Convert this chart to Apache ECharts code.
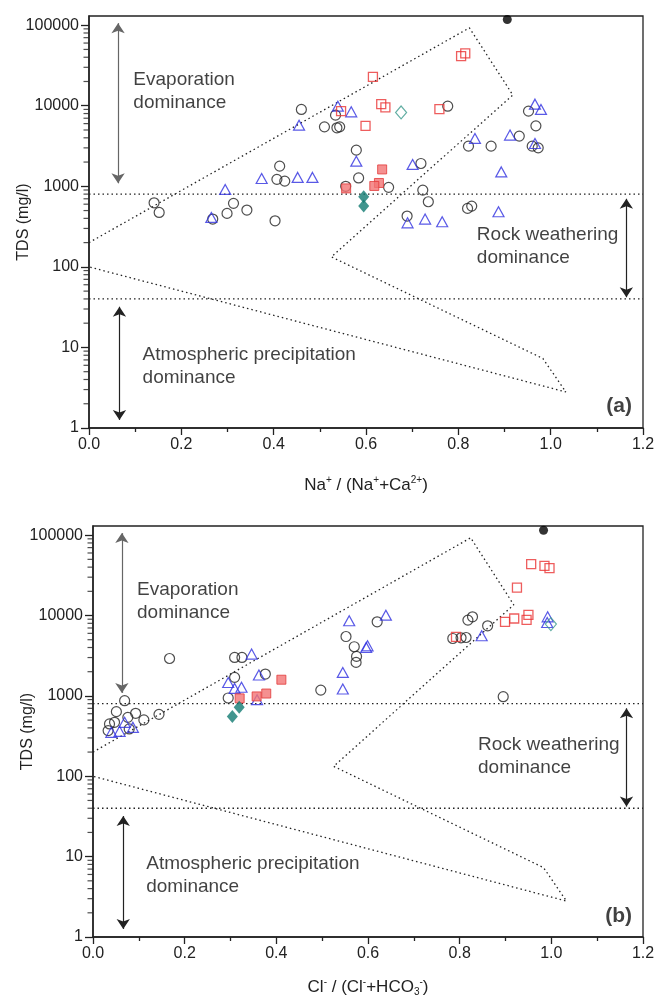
<!DOCTYPE html>
<html>
<head>
<meta charset="utf-8">
<title>Gibbs diagrams</title>
<script src="https://cdn.jsdelivr.net/npm/echarts@6.0.0/dist/echarts.min.js"></script>
<style>
  html, body { margin: 0; padding: 0; background: #fff; }
  #chart { width: 657px; height: 999px; }
</style>
</head>
<body>
<div id="chart"></div>
<script>
// ---- data ----
// panel (a): Na+ / (Na+ + Ca2+) vs TDS
var circlesA = [[0.460,9000],[0.534,7640],[0.510,5470],[0.537,5320],[0.543,5470],[0.579,2810],[0.584,1270],
  [0.413,1780],[0.407,1220],[0.424,1160],[0.556,1000],[0.141,624],[0.152,474],[0.313,614],[0.299,461],
  [0.342,507],[0.268,392],[0.403,373],[0.777,9880],[0.952,8570],[0.968,5630],[0.822,3150],[0.871,3150],
  [0.932,4200],[0.960,3150],[0.973,3000],[0.719,1920],[0.649,970],[0.723,897],[0.735,643],[0.820,532],
  [0.829,568],[0.689,427]];
var trianglesA = [[0.455,5740],[0.539,9880],[0.568,8400],[0.579,2050],[0.374,1250],[0.452,1290],[0.484,1290],
  [0.295,915],[0.265,411],[0.966,10470],[0.979,9000],[0.836,3930],[0.912,4320],[0.966,3400],[0.701,1870],
  [0.893,1510],[0.690,352],[0.728,392],[0.765,363],[0.887,483]];
var openSquaresA = [[0.806,41200],[0.815,44600],[0.615,22800],[0.633,10470],[0.642,9520],[0.759,9080],[0.599,5630],[0.546,8570]];
var filledSquaresA = [[0.557,942],[0.635,1620],[0.628,1100],[0.618,1010]];
var filledDiamondsA = [[0.595,740],[0.595,568]];
var openDiamondsA = [[0.676,8260]];
var blackDotsA = [[0.906,117700]];

// panel (b): Cl- / (Cl- + HCO3-) vs TDS
var circlesB = [[0.167,2920],[0.309,3010],[0.325,3010],[0.376,1870],[0.309,1700],[0.295,942],[0.497,1180],
  [0.069,871],[0.051,637],[0.093,607],[0.111,503],[0.144,589],[0.047,469],[0.076,541],[0.036,448],
  [0.033,370],[0.079,388],[0.818,8770],[0.828,9640],[0.861,7450],[0.785,5180],[0.803,5280],[0.814,5330],
  [0.895,977],[0.620,8350],[0.552,5480],[0.570,4090],[0.575,3100],[0.574,2610]];
var trianglesB = [[0.346,3310],[0.362,1820],[0.358,897],[0.295,1470],[0.309,1240],[0.324,1280],[0.069,469],
  [0.087,406],[0.040,352],[0.058,362],[0.992,9640],[0.991,8180],[0.848,5600],[0.559,8600],[0.639,10100],
  [0.596,4000],[0.599,4200],[0.545,1960],[0.545,1220]];
var openSquaresB = [[0.956,43500],[0.985,41400],[0.996,38800],[0.925,22300],[0.899,8350],[0.919,9180],
  [0.946,8850],[0.950,10200],[0.792,5440]];
var filledSquaresB = [[0.411,1590],[0.378,1070],[0.357,985],[0.320,931]];
var filledDiamondsB = [[0.319,720],[0.304,556]];
var openDiamondsB = [[0.999,7820]];
var blackDotsB = [[0.983,115000]];

// Gibbs boundary (same in both panels)
var boundaryX = [0, 0.824, 0.918, 0.525, 0.983, 1.033, 0];
var boundaryY = [200, 92700, 13600, 133, 7.3, 2.8, 100];
var levelLines = [800, 40];

var yDecades = [1, 10, 100, 1000, 10000, 100000];
var yMinorTicks = [];
for (var d = 0; d < 5; d++) for (var m = 2; m <= 9; m++) yMinorTicks.push(m * yDecades[d]);

var FONT = 'Liberation Sans, Arial, Helvetica, sans-serif';
var INK = '#222';

function zip(xs, ys) { return xs.map(function (x, i) { return [x, ys[i]]; }); }

function scatter(idx, data, symbol, size, style, z) {
  return {
    type: 'scatter', xAxisIndex: idx, yAxisIndex: idx, data: data,
    symbol: symbol, symbolSize: size, itemStyle: style, z: z || 3, silent: true, clip: false
  };
}

function note(idx, x, y, text, pos, extra) {
  var lab = { show: true, position: pos, distance: 0, formatter: text, fontFamily: FONT,
    fontSize: 19, lineHeight: 23, color: '#111' };
  for (var k in extra) lab[k] = extra[k];
  return { type: 'scatter', xAxisIndex: idx, yAxisIndex: idx, data: [[x, y]], symbolSize: 1,
    itemStyle: { color: 'rgba(0,0,0,0)' }, label: lab, silent: true, z: 5 };
}

function panelSeries(idx, d, letter) {
  var dotted = { type: [1.5, 3], width: 1.3, color: INK };
  var s = [];
  s.push({ type: 'line', xAxisIndex: idx, yAxisIndex: idx, data: zip(boundaryX, boundaryY),
    symbol: 'none', lineStyle: dotted, silent: true, z: 1 });
  levelLines.forEach(function (v, k) {
    var ser = { type: 'line', xAxisIndex: idx, yAxisIndex: idx, data: [[0, v], [1.2, v]],
      symbol: 'none', lineStyle: dotted, silent: true, z: 1 };
    if (k === 0) {
      ser.markLine = {
        silent: true, symbol: ['arrow', 'arrow'], symbolSize: 10,
        label: { show: false }, lineStyle: { type: 'solid', width: 1.2, color: INK },
        itemStyle: { color: '#111' },
        emphasis: { disabled: true },
        data: [
          [{ coord: [0.063, 106000], lineStyle: { color: '#666' } }, { coord: [0.063, 1090] }],
          [{ coord: [0.066, 32] }, { coord: [0.066, 1.26] }],
          [{ coord: [1.164, 700] }, { coord: [1.164, 42] }]
        ]
      };
    }
    s.push(ser);
  });
  // minor ticks of the log axis
  s.push({ type: 'scatter', xAxisIndex: idx, yAxisIndex: idx,
    data: yMinorTicks.map(function (v) { return [0, v]; }),
    symbol: 'rect', symbolSize: [5, 1.2], symbolOffset: [-3, 0],
    itemStyle: { color: INK }, silent: true, clip: false, z: 6 });

  s.push(scatter(idx, d.circles, 'circle', 10, { color: 'rgba(0,0,0,0)', borderColor: '#222', borderWidth: 1.2 }));
  s.push(scatter(idx, d.triangles, 'triangle', [11, 10], { color: 'rgba(0,0,0,0)', borderColor: '#2f2fe0', borderWidth: 1.2 }));
  s.push(scatter(idx, d.openSquares, 'rect', 9, { color: 'rgba(0,0,0,0)', borderColor: '#ea3434', borderWidth: 1.3 }));
  s.push(scatter(idx, d.filledSquares, 'rect', 9, { color: '#f27474', borderColor: '#e23a3a', borderWidth: 1 }));
  s.push(scatter(idx, d.filledDiamonds, 'diamond', [11, 13], { color: '#127a72' }));
  s.push(scatter(idx, d.openDiamonds, 'diamond', [11, 13], { color: 'rgba(0,0,0,0)', borderColor: '#3b9a8c', borderWidth: 1.2 }));
  s.push(scatter(idx, d.blackDots, 'circle', 9, { color: '#000' }));

  s.push(note(idx, 0.095, 15000, 'Evaporation\ndominance', 'right', {}));
  s.push(note(idx, 0.839, 178, 'Rock weathering\ndominance', 'right', {}));
  s.push(note(idx, 0.115, 5.8, 'Atmospheric precipitation\ndominance', 'right', {}));
  s.push(note(idx, 1.177, 1.84, '(' + letter + ')', 'left', { fontWeight: 'bold', fontSize: 21 }));
  return s;
}

function xAxis(idx, name, gap) {
  return {
    type: 'value', gridIndex: idx, min: 0, max: 1.2, interval: 0.2,
    name: name, nameLocation: 'middle', nameGap: gap, nameMoveOverlap: false,
    nameTextStyle: {
      rich: {
        n: { fontFamily: FONT, fontSize: 17, color: INK, lineHeight: 20 },
        s: { fontFamily: FONT, fontSize: 10, color: INK, verticalAlign: 'top', lineHeight: 20, padding: [0, 0, 10, 0] },
        b: { fontFamily: FONT, fontSize: 10, color: INK, verticalAlign: 'bottom', lineHeight: 20, padding: [8, 0, 0, 0] }
      }
    },
    axisLine: { show: true, onZero: false, lineStyle: { color: INK, width: 1.5 } },
    axisTick: { show: true, length: 7, lineStyle: { color: INK, width: 1.3 } },
    minorTick: { show: true, splitNumber: 2, length: 4, lineStyle: { color: INK, width: 1.3 } },
    splitLine: { show: false },
    axisLabel: { fontFamily: FONT, fontSize: 16, color: INK, margin: 9,
      formatter: function (v) { return v.toFixed(1); } }
  };
}

function yAxis(idx) {
  return {
    type: 'log', logBase: 10, gridIndex: idx, min: 1, max: 130000, splitNumber: 5,
    name: 'TDS (mg/l)', nameLocation: 'middle', nameGap: 57, nameRotate: 90, nameMoveOverlap: false,
    nameTextStyle: { fontFamily: FONT, fontSize: 16, color: INK },
    axisLine: { show: true, onZero: false, lineStyle: { color: INK, width: 1.5 } },
    axisTick: { show: true, length: 8, lineStyle: { color: INK, width: 1.3 } },
    splitLine: { show: false },
    axisLabel: { fontFamily: FONT, fontSize: 16, color: INK, margin: 10, showMaxLabel: false,
      formatter: function (v) {
        var e = Math.log(v) / Math.LN10;
        if (Math.abs(e - Math.round(e)) > 1e-6) return '';
        return String(yDecades[Math.round(e)]);
      } }
  };
}

var panelA = { circles: circlesA, triangles: trianglesA, openSquares: openSquaresA, filledSquares: filledSquaresA,
  filledDiamonds: filledDiamondsA, openDiamonds: openDiamondsA, blackDots: blackDotsA };
var panelB = { circles: circlesB, triangles: trianglesB, openSquares: openSquaresB, filledSquares: filledSquaresB,
  filledDiamonds: filledDiamondsB, openDiamonds: openDiamondsB, blackDots: blackDotsB };

var option = {
  animation: false,
  backgroundColor: '#fff',
  grid: [
    { left: 89, top: 16, width: 554, height: 412, show: true, borderColor: INK, borderWidth: 1.3, outerBoundsMode: 'none' },
    { left: 93, top: 526, width: 550, height: 411, show: true, borderColor: INK, borderWidth: 1.3, outerBoundsMode: 'none' }
  ],
  xAxis: [
    xAxis(0, '{n|Na}{s|+}{n| / (Na}{s|+}{n|+Ca}{s|2+}{n|)}', 47),
    xAxis(1, '{n|Cl}{s|-}{n| / (Cl}{s|-}{n|+HCO}{b|3}{s|-}{n|)}', 40)
  ],
  yAxis: [yAxis(0), yAxis(1)],
  series: panelSeries(0, panelA, 'a').concat(panelSeries(1, panelB, 'b'))
};

var chart = echarts.init(document.getElementById('chart'), null, { renderer: 'canvas' });
chart.setOption(option);
</script>
</body>
</html>
